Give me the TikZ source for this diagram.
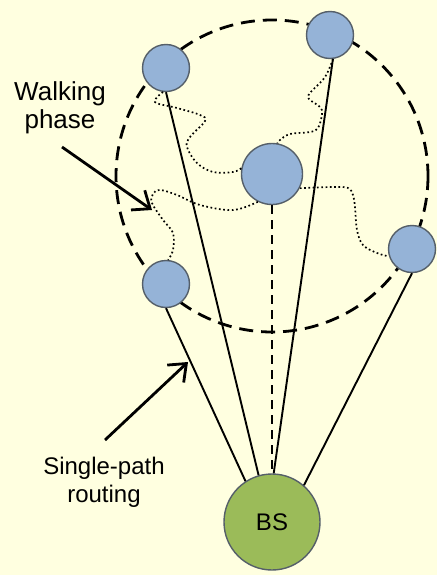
\documentclass[tikz,border=0pt]{standalone}
\usepackage{fontspec}
\setmainfont{Liberation Sans}
\usetikzlibrary{arrows.meta}
\definecolor{paper}{RGB}{255,255,224}
\definecolor{sensor}{RGB}{149,179,215}
\definecolor{sink}{RGB}{155,187,89}
\definecolor{rim}{RGB}{85,95,105}

\begin{document}
\begin{tikzpicture}[x=1pt,y=-1pt,
    sn/.style={circle,draw=rim,line width=1.4pt,fill=sensor,inner sep=0pt,minimum size=47pt},
    walk/.style={line width=1.7pt,dash pattern=on 1.7pt off 2.6pt},
    lbl/.style={align=center,font=\fontsize{24}{28}\selectfont}]
    \fill[paper] (0,0) rectangle (437,575);
    \useasboundingbox (0,0) rectangle (437,575);

    \draw[line width=2.8pt,dash pattern=on 14pt off 8pt] (272,176) circle[radius=156];

    \node[sn] (1) at (166,68) {};
    \node[sn] (2) at (330,35) {};
    \node[sn,minimum size=61pt] (3) at (272,174) {};
    \node[sn] (4) at (412,249) {};
    \node[sn] (5) at (166,284) {};
    \node[sn,fill=sink,minimum size=96pt,font=\fontsize{24}{28}\selectfont] (bs) at (272,522) {BS};

    \path[line width=1.9pt]
    (1.south) edge (bs.106)
    (2.-83) edge (bs.88)
    (4.south) edge (bs.49)
    (5.south) edge (bs.123)
    (3.south) edge [dash pattern=on 9pt off 6pt] (bs.north)
    ;

    \draw[walk] plot[smooth,tension=0.6] coordinates {(1.-97) (155,102) (177,108) (200,115) (205,121) (190,137) (187,147) (197,163) (213,172) (233,172) (3.169)};
    \draw[walk] plot[smooth,tension=0.6] coordinates {(2.-83) (325,77) (310,93) (309,99) (320,107) (322,114) (318,128) (310,132) (290,134) (280,140) (3.80)};
    \draw[walk] plot[smooth,tension=0.6] coordinates {(3.-117) (233,210) (200,205) (177,195) (160,190) (153,194) (152,203) (163,220) (173,233) (173,250) (5.85)};
    \draw[walk] plot[smooth,tension=0.6] coordinates {(3.-27) (333,187) (348,188) (353,195) (355,207) (357,230) (363,245) (377,253) (4.198)};

    \node[lbl,font=\fontsize{26}{28}\selectfont] (walking) at (60,108) {Walking\\phase};
    \node[lbl] (routing) at (104,482) {Single-path\\routing};
    \coordinate (w1) at (62,147);
    \coordinate (w2) at (152,210);
    \coordinate (r1) at (105,440);
    \coordinate (r2) at (188,362);

    \path[line width=2.8pt,-{Straight Barb[length=15pt,width=24pt]}]
    (w1) edge (w2)
    (r1) edge (r2)
    ;
\end{tikzpicture}
\end{document}
